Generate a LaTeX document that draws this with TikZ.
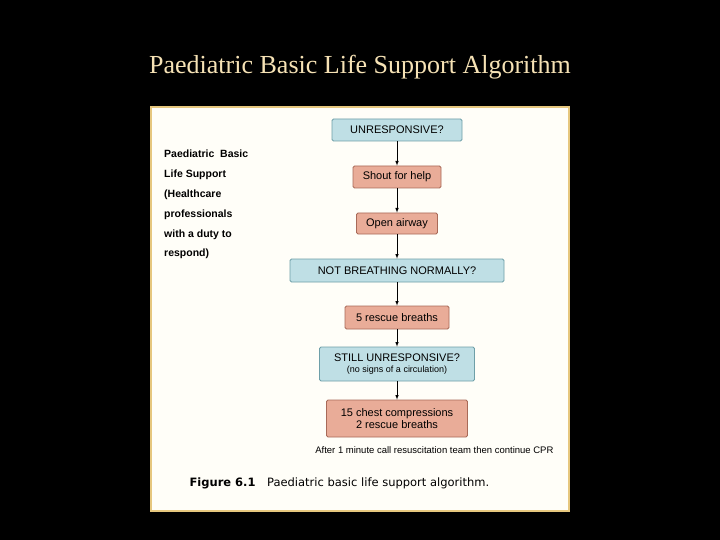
\documentclass[tikz,border=0pt]{standalone}
\usepackage{fontspec}
\setmainfont{Liberation Serif}
\newfontfamily\sans{Liberation Sans}
\newfontfamily\capf{DejaVu Sans}
\definecolor{bfill}{HTML}{BFDFE5}
\definecolor{bdraw}{HTML}{6E9FA8}
\definecolor{sfill}{HTML}{E9AC98}
\definecolor{sdraw}{HTML}{A86A58}
\definecolor{paper}{HTML}{FFFEF8}
\definecolor{frame}{HTML}{E6C77E}
\definecolor{ttl}{HTML}{F6E2B5}
\begin{document}
\begin{tikzpicture}[x=1pt,y=-1pt,
  box/.style={draw,rounded corners=1.5pt,line width=0.8pt,font=\sans\fontsize{11}{12}\selectfont,inner sep=0pt,align=center},
  blue/.style={box,fill=bfill,draw=bdraw},
  sal/.style={box,fill=sfill,draw=sdraw},
  arr/.style={-latex,line width=0.6pt}]
\fill[black] (0,0) rectangle (720,540);
\useasboundingbox (0,0) rectangle (720,540);
\node[font=\fontsize{26}{30}\selectfont,text=ttl] (title) at (360,67) {Paediatric Basic Life Support Algorithm};
\draw[fill=paper,draw=frame,line width=1.5pt] (151,107) rectangle (569,511);
\node[blue,minimum width=130pt,minimum height=22pt] (a) at (397,130) {UNRESPONSIVE?};
\node[sal,minimum width=88pt,minimum height=22pt] (b) at (397,177) {Shout for help};
\node[sal,minimum width=81pt,minimum height=21pt] (c) at (397,223.5) {Open airway};
\node[blue,minimum width=214pt,minimum height=23pt] (d) at (397,270.5) {NOT BREATHING NORMALLY?};
\node[sal,minimum width=104pt,minimum height=23pt] (e) at (397,317.5) {5 rescue breaths};
\node[blue,minimum width=155pt,minimum height=34pt] (f) at (397,364) {STILL UNRESPONSIVE?\\[-1pt]{\fontsize{9}{10}\selectfont (no signs of a circulation)}};
\node[sal,minimum width=141pt,minimum height=37pt] (g) at (397,418.5) {15 chest compressions\\2 rescue breaths};
\foreach \p/\q in {a/b,b/c,c/d,d/e,e/f,f/g} \draw[arr] (\p) -- (\q);
\node[font=\sans\fontsize{9.5}{11}\selectfont,anchor=east] (note) at (557,450) {After 1 minute call resuscitation team then continue CPR};
\node[font=\capf\fontsize{11.5}{13}\selectfont,anchor=west] (cap) at (186,483) {\textbf{Figure 6.1}\quad Paediatric basic life support algorithm.};
\node[font=\sans\bfseries\fontsize{10.5}{19.8}\selectfont,anchor=north west,align=left,inner sep=0pt] (side) at (164,150) {Paediatric\ \ Basic\\Life Support\\(Healthcare\\professionals\\with a duty to\\respond)};
\end{tikzpicture}
\end{document}
